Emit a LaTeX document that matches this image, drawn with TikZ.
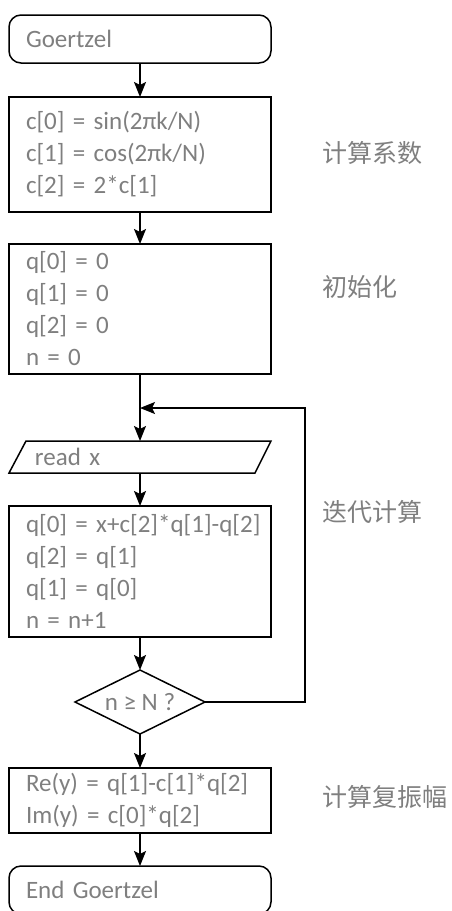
\documentclass[tikz,border=0pt]{standalone}
\usepackage{fontspec}
\setmainfont{Carlito}
\newfontfamily\cjk{Noto Sans CJK SC}
\usetikzlibrary{positioning, shapes.geometric, arrows.meta}
\definecolor{textgray}{HTML}{7F7F7F}
\tikzset{
        >={Stealth[length=15pt,width=12pt,inset=3pt]}, % arrow heads of the flow
        node distance=33pt, % gap between two steps
        every node/.style={font=\fontsize{25pt}{32pt}\selectfont, text=textgray},
        line/.style={line width=1.5pt}, % all strokes
        stepbox/.style={line, draw, rectangle, outer sep=0pt, minimum width=262pt, text width=244pt,
            inner xsep=9pt, align=left, execute at begin node={\leftskip=8pt}},
        terminal/.style={stepbox, rounded corners=12pt, minimum height=48pt},
        iobox/.style={stepbox, draw=none, minimum height=32pt, execute at begin node={\leftskip=17pt}},
        decision/.style={line, draw, diamond, aspect=2, outer sep=0pt, minimum width=130pt, minimum height=64pt, inner sep=0pt},
        note/.style={anchor=west, inner sep=0pt, font=\cjk\fontsize{25pt}{30pt}\selectfont}, % side comments
    }

\begin{document}
\begin{tikzpicture}
    \useasboundingbox (0,0) rectangle (451pt,-911pt);

    \node[terminal] (start) at (140pt,-39pt) {Goertzel};
    \node[stepbox, minimum height=115pt, below=34pt of start] (coef)
        {c[0] = sin(2πk/N)\\c[1] = cos(2πk/N)\\c[2] = 2*c[1]};
    \node[stepbox, minimum height=130pt, below=32pt of coef] (init)
        {q[0] = 0\\q[1] = 0\\q[2] = 0\\n = 0};
    \coordinate[below=34pt of init] (join);
    \node[iobox, below=of join] (read) {read x};
    \node[stepbox, minimum height=131pt, below=of read] (iter)
        {q[0] = x+c[2]*q[1]-q[2]\\q[2] = q[1]\\q[1] = q[0]\\n = n+1};
    \node[decision, below=of iter] (check) {n ≥ N ?};
    \node[stepbox, minimum height=65pt, below=34pt of check] (result)
        {Re(y) = q[1]-c[1]*q[2]\\Im(y) = c[0]*q[2]};
    \node[terminal, below=of result] (end) {End Goertzel};
    \coordinate[right=165pt of join] (back);

    % input box
    \draw[line] ([xshift=17pt]read.north west) -- (read.north east)
        -- ([xshift=-16pt]read.south east) -- (read.south west) -- cycle;

    % flow
    \draw[line,->] (start) -- (coef);
    \draw[line,->] (coef) -- (init);
    \draw[line] (init) -- (join);
    \draw[line,->] (join) -- (read);
    \draw[line,->] (read) -- (iter);
    \draw[line,->] (iter) -- (check);
    \draw[line,->] (check) -- (result);
    \draw[line,->] (result) -- (end);
    \draw[line,->] (check.east) -| (back) -- (join);

    % comments
    \node[note] (coefnote) at (322pt,-153pt) {计算系数};
    \node[note] (initnote) at (322pt,-287pt) {初始化};
    \node[note] (iternote) at (322pt,-512pt) {迭代计算};
    \node[note] (resnote) at (322pt,-797pt) {计算复振幅};
\end{tikzpicture}
\end{document}
